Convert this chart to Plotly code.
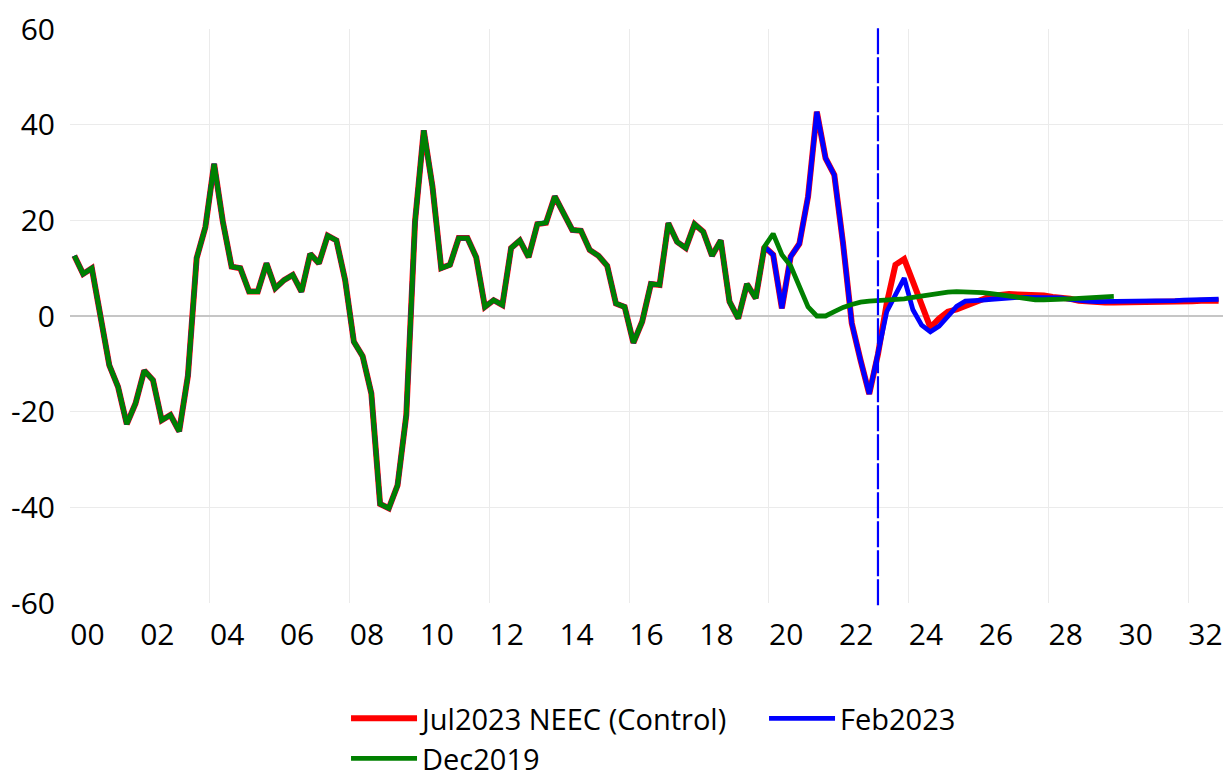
import plotly.graph_objects as go

# ---- data (quarterly, 2000Q1 onwards) ----
history = [12.6, 8.8, 10.0, -0.8, -10.3, -14.8, -22.6, -18.3, -11.4, -13.4,
           -21.8, -20.7, -24.1, -12.5, 12.1, 18.6, 31.8, 19.7, 10.3, 10.0,
           5.1, 5.1, 11.0, 5.8, 7.5, 8.6, 5.1, 13.0, 11.0, 16.8,
           15.8, 7.5, -5.4, -8.4, -16.2, -39.3, -40.2, -35.4, -20.7, 19.7,
           38.8, 27.0, 10.0, 10.7, 16.3, 16.3, 12.3, 1.9, 3.3, 2.3,
           14.2, 15.8, 12.3, 19.2, 19.5, 25.0, 21.3, 18.0, 17.8, 13.8,
           12.6, 10.5, 2.6, 1.9, -5.6, -1.2, 6.7, 6.5, 19.4, 15.5,
           14.2, 19.2, 17.6, 12.6, 15.8, 3.0, -0.5, 6.7, 3.7, 14.5]

jul2023_fc = [12.8, 1.6, 12.4, 15.1, 25.0, 42.7, 33.0, 29.5, 15.2, -1.5,
              -9.2, -16.3, -8.0, 2.6, 10.7, 11.9, 7.2, 2.4, -2.4, -0.5,
              0.9, 1.4, 2.0, 2.7, 3.5, 4.2, 4.5, 4.6, 4.5, 4.5,
              4.5, 4.3, 4.0, 3.9, 3.6, 3.2, 3.0, 2.9, 2.8, 2.8,
              2.8, 2.8, 2.9, 2.9, 3.0, 3.0, 3.1, 3.1, 3.1, 3.2,
              3.2, 3.2]

feb2023_fc = [12.8, 1.6, 12.4, 15.1, 25.0, 42.7, 33.0, 29.5, 15.2, -1.5,
              -9.2, -16.3, -7.8, 0.9, 4.4, 7.9, 1.3, -1.9, -3.3, -2.1,
              -0.1, 2.0, 3.1, 3.1, 3.3, 3.5, 3.7, 3.8, 3.9, 3.9,
              3.9, 3.9, 3.9, 3.8, 3.5, 3.2, 3.1, 3.0, 3.0, 3.0,
              3.0, 3.0, 3.0, 3.1, 3.1, 3.2, 3.2, 3.3, 3.4, 3.4,
              3.5, 3.5]

dec2019_fc = [17.2, 12.8, 10.5, 6.1, 1.9, 0.0, 0.0, 0.9, 1.8, 2.4,
              2.9, 3.1, 3.2, 3.3, 3.5, 3.6, 3.9, 4.2, 4.5, 4.8,
              5.0, 5.1, 5.1, 5.0, 4.9, 4.7, 4.4, 4.1, 3.8, 3.6,
              3.4, 3.4, 3.4, 3.5, 3.6, 3.7, 3.8, 3.9, 4.0, 4.1]

series_names = ["Jul2023 NEEC (Control)", "Feb2023", "Dec2019"]
series_colors = ["#ff0000", "#0000ff", "#008000"]

tick_years = list(range(2000, 2033, 2))
tick_labels = ["%02d" % (y % 100) for y in tick_years]
grid_years = list(range(2004, 2033, 4))
y_ticks = [-60, -40, -20, 0, 20, 40, 60]
y_tick_labels = [str(v) for v in y_ticks]
forecast_marker = 2023.125  # 2023Q1


def qdate(i):
    return 2000 + (i + 0.5) / 4.0


jul = history + jul2023_fc
feb = history + feb2023_fc
dec = history + dec2019_fc

fig = go.Figure()
for vals, name, col, w, lg in [(jul, series_names[0], series_colors[0], 6, "legend"),
                               (feb, series_names[1], series_colors[1], 4.8, "legend"),
                               (dec, series_names[2], series_colors[2], 4.8, "legend2")]:
    fig.add_trace(go.Scatter(
        x=[qdate(i) for i in range(len(vals))], y=vals, mode="lines",
        name=name, line=dict(color=col, width=w), hoverinfo="skip",
        legend=lg))

fig.add_shape(type="line", xref="x", yref="paper", x0=forecast_marker,
              x1=forecast_marker, y0=-0.004, y1=1.004,
              line=dict(color="#0000ff", width=2.2, dash="26px,3px"))

font_family = "Open Sans, Lato, sans-serif"
leg_common = dict(orientation="h", xanchor="left", yanchor="top",
                  itemwidth=66, font=dict(size=29, family=font_family),
                  traceorder="normal", bgcolor="rgba(0,0,0,0)")
# page body has an 8px default margin, so the figure is sized to fit the window
fig.update_layout(
    width=1223, height=771,
    margin=dict(l=62, r=8, t=21, b=176, autoexpand=False),
    paper_bgcolor="white", plot_bgcolor="white",
    font=dict(family=font_family, size=30, color="black"),
    showlegend=True,
    legend=dict(x=0.2394, y=-0.1568, entrywidth=337, **leg_common),
    legend2=dict(x=0.2394, y=-0.2265, **leg_common),
    xaxis=dict(range=[2000, 2033], tickmode="array", automargin=False,
               tickvals=[y + 0.5 for y in tick_years], ticktext=tick_labels,
               showgrid=False, zeroline=False, showline=False, ticks="",
               ticklabelstandoff=11, ticklabeloverflow="allow",
               minor=dict(tickmode="array", tickvals=grid_years, showgrid=True,
                          gridcolor="#ebebeb", gridwidth=1, ticks="")),
    yaxis=dict(range=[-60, 60], tickmode="array", tickvals=y_ticks,
               ticktext=y_tick_labels, automargin=False,
               showgrid=True, gridcolor="#ebebeb", gridwidth=1,
               zeroline=True, zerolinecolor="#c6c6c6", zerolinewidth=1.5,
               showline=False, ticks="", ticklabelstandoff=14,
               ticklabeloverflow="allow"),
)

fig.write_html("out.html")
